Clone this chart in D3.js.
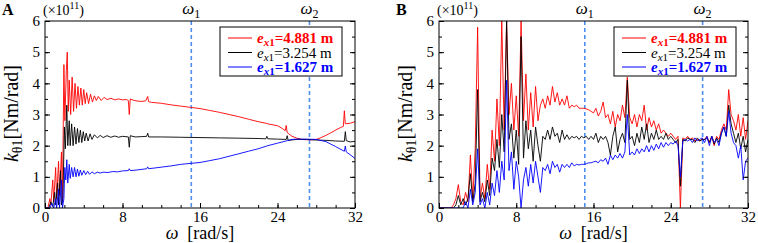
<!DOCTYPE html>
<html>
<head>
<meta charset="utf-8">
<script src="https://cdn.jsdelivr.net/npm/d3@7"></script>
<style>
  body { margin: 0; background: #fff; }
  svg text { font-family: "Liberation Serif", "Times New Roman", serif; }
</style>
</head>
<body>
<svg id="drawing_region"></svg>
<script>
// axis ticks
const xMajor = [0, 8, 16, 24, 32];
const yMajor = [0, 1, 2, 3, 4, 5, 6];
const omegaMarks = [15.1, 27.3];

const legendLabels = ["4.881", "3.254", "1.627"];
const seriesColors = ["#ff0000", "#000000", "#0000ff"];

// panel A: [omega, k] pairs
const redA = [[0,0],[0.3,0],[0.5,0.3],[0.6,0.1],[0.8,0.9],[0.9,0.2],[1.1,1.3],[1.2,0.3],[1.4,1.5],[1.5,0.4],[1.7,1.8],[1.8,0.2],
  [1.95,4.6],[2.05,2.8],[2.2,4.4],[2.3,5.0],[2.4,3.1],[2.5,4.1],[2.65,3.0],[2.8,4.2],[2.95,3.1],[3.1,4.0],[3.25,3.2],[3.4,3.9],
  [3.55,3.3],[3.7,3.85],[3.85,3.3],[4.0,3.8],[4.15,3.35],[4.3,3.7],[4.5,3.35],[4.7,3.65],[4.9,3.4],[5.1,3.6],[5.3,3.45],[5.5,3.58],
  [5.8,3.45],[6.1,3.55],[6.4,3.48],[6.8,3.52],[7.2,3.47],[7.6,3.5],[8.0,3.47],[8.4,3.48],[8.6,3.45],[8.7,3.0],[8.8,3.5],[9.2,3.45],
  [9.6,3.43],[10.0,3.42],[10.4,3.44],[10.6,3.58],[10.7,3.41],[11,3.39],[12,3.36],[13,3.31],[14,3.27],[15,3.23],[16,3.19],[17,3.13],
  [18,3.07],[19,3.0],[20,2.93],[21,2.85],[22,2.77],[22.8,2.72],[23,2.7],[24,2.64],[24.5,2.55],[24.8,2.48],[24.9,2.65],[25.0,2.42],
  [25.5,2.3],[26,2.24],[26.5,2.2],[27,2.19],[27.5,2.19],[28,2.2],[28.5,2.26],[29,2.33],[29.5,2.41],[30,2.5],[30.5,2.58],[30.8,2.62],
  [30.9,3.12],[31.0,2.7],[31.5,2.72],[32,2.77]];
const blackA = [[0,0],[0.4,0],[0.6,0.2],[0.8,0.05],[1.0,0.5],[1.1,0.1],[1.3,0.8],[1.4,0.1],[1.6,1.2],[1.7,0.1],[1.85,0.3],
  [2.0,2.6],[2.1,1.9],[2.25,3.3],[2.35,2.0],[2.5,2.8],[2.6,2.0],[2.75,2.7],[2.9,2.0],[3.05,2.6],[3.2,2.05],[3.35,2.55],[3.5,2.1],
  [3.65,2.5],[3.8,2.1],[3.95,2.45],[4.1,2.15],[4.25,2.4],[4.45,2.15],[4.65,2.38],[4.85,2.2],[5.1,2.35],[5.4,2.25],[5.7,2.33],[6,2.26],
  [6.4,2.32],[6.8,2.27],[7.2,2.31],[7.6,2.27],[8,2.3],[8.6,2.28],[8.7,1.95],[8.8,2.32],[9.3,2.28],[10,2.29],[10.5,2.3],[10.6,2.4],
  [10.7,2.28],[12,2.28],[14,2.27],[16,2.26],[18,2.25],[20,2.24],[22,2.23],[22.8,2.22],[22.9,2.3],[23,2.22],[24,2.21],[24.9,2.2],
  [25,2.32],[25.1,2.17],[26,2.2],[27,2.2],[28,2.18],[29,2.17],[30,2.15],[30.9,2.14],[31.0,2.45],[31.1,2.16],[31.5,2.12],[32,2.14]];
const blueA = [[0,0],[0.5,0],[0.7,0.15],[0.9,0.0],[1.1,0.3],[1.2,0],[1.4,0.6],[1.5,0],[1.7,0.9],[1.8,0],[1.95,0.3],
  [2.05,1.3],[2.15,0.9],[2.25,1.55],[2.35,0.8],[2.5,1.4],[2.6,0.95],[2.75,1.3],[2.9,1.0],[3.05,1.3],[3.2,1.0],[3.35,1.25],[3.5,1.02],
  [3.65,1.22],[3.8,1.05],[4,1.2],[4.2,1.07],[4.4,1.18],[4.6,1.08],[4.85,1.16],[5.1,1.1],[5.4,1.15],[5.7,1.12],[6,1.15],[6.5,1.14],
  [7,1.17],[7.5,1.16],[8,1.19],[8.6,1.2],[8.7,1.26],[8.8,1.2],[9.5,1.22],[10.5,1.26],[10.6,1.32],[10.7,1.26],[12,1.31],[13,1.35],
  [14,1.4],[15,1.43],[16,1.46],[17,1.52],[18,1.58],[19,1.66],[20,1.74],[21,1.82],[22,1.9],[23,2.0],[24,2.08],[25,2.16],[25.5,2.2],
  [26,2.21],[27,2.21],[28,2.2],[29,2.13],[30,1.97],[30.9,1.82],[31.0,1.99],[31.1,1.8],[31.5,1.71],[32,1.59]];

// panel B: k sampled every 0.25 rad/s from 0 to 32
const stepB = 0.25;
const redB = [0,0,0,0,0,0,0.1,0.3,0.75,0.2,0.1,0.5,0.2,1.7,0.3,1.9,5.8,0.3,0.8,0.3,1.4,0.6,2.5,1.5,3.5,2.0,6,2.5,6,3.0,4.0,2.5,
  3.6,2.3,6,2.8,4.3,2.5,3.7,2.6,3.9,2.8,3.3,3.5,3.2,3.6,3.3,3.9,3.4,3.7,3.3,3.5,3.3,3.6,3.2,3.3,3.25,3.3,3.2,3.2,3.2,3.18,3.15,3.1,
  3.05,3.2,2.95,3.1,3.4,2.9,3.0,2.7,3.1,2.6,3.0,2.8,3.3,2.9,4.2,2.9,2.7,3.0,2.6,3.0,2.8,3.3,2.5,2.9,2.6,2.8,2.5,2.7,2.4,2.5,2.4,2.3,
  2.4,2.3,2.2,2.3,0,2.25,2.2,2.3,2.2,2.25,2.15,2.2,2.15,2.2,2.2,2.3,2.1,2.3,2.0,2.3,2.2,2.5,2.7,2.5,3.8,3.0,2.8,2.5,3.0,2.3,2.9,2.2,2.8];
const blackB = [0,0,0,0,0,0,0,0.1,0.4,0.1,0.3,0.1,0.3,1.1,0.2,0.8,3.8,0.2,0.5,0.2,0.9,0.4,1.6,1.2,2.2,1.3,3.0,1.8,6.0,2.2,2.7,1.6,
  2.5,1.4,5.5,1.6,2.8,1.9,2.5,1.5,2.6,2.0,1.5,2.3,2.2,2.5,2.2,2.6,2.3,2.4,2.1,2.5,2.2,2.35,2.2,2.3,2.25,2.3,2.2,2.3,2.25,2.3,2.2,2.3,
  2.2,2.4,2.1,2.3,2.2,2.3,2.1,1.7,2.3,2.6,1.8,2.2,2.4,2.1,4.1,2.2,2.3,2.0,2.4,2.1,2.6,2.2,2.7,2.1,2.4,2.2,2.5,2.2,2.3,2.2,2.4,2.2,
  2.3,2.2,2.1,2.2,0.7,2.2,2.15,2.25,2.2,2.2,2.1,2.25,2.15,2.2,2.2,2.25,2.1,2.3,2.05,2.25,2.1,2.4,2.6,2.3,3.3,2.7,2.4,2.1,2.4,1.9,2.3,1.8,2.2];
const blueB = [0,0,0,0,0,0,0,0,0,0,0,0.2,0,0.6,0.1,0.5,1.9,0.1,0.3,0,0.5,0.1,0.8,0.4,1.2,0.5,1.5,0.9,4.1,1.2,1.8,0.6,
  1.5,1.0,0,0.9,1.3,0.7,1.4,0.8,1.5,1.0,0.5,1.3,1.2,1.4,1.1,1.5,1.3,1.4,1.15,1.4,1.3,1.4,1.3,1.45,1.35,1.4,1.38,1.4,1.4,1.42,1.45,1.45,
  1.48,1.5,1.45,1.55,1.5,1.6,1.4,1.7,1.55,1.7,1.6,1.75,1.6,1.8,3.0,1.7,1.8,1.7,1.9,1.75,1.9,1.8,2.0,1.8,2.0,1.85,2.05,1.9,2.1,1.95,2.1,2.0,
  2.1,2.05,2.15,2.0,1.0,2.15,2.2,2.15,2.2,2.1,2.25,2.15,2.2,2.25,2.1,2.3,2.0,2.3,2.1,2.2,2.0,2.4,2.6,2.3,3.1,2.4,2.1,2.0,1.6,2.0,0.9,1.5,1.6];

class Panel {
  constructor( config, series ) {
    this.config = config;
    this.series = series;
    this.init();
  }

  init() {
    let self = this;
    const c = self.config;
    self.chart = d3.select('#drawing_region').append('g')
      .attr('transform', `translate(${c.left}, ${c.top})`);
    self.w = c.width;
    self.h = c.height;

    self.xscale = d3.scaleLinear().domain([0, 32]).range([0, self.w]);
    self.yscale = d3.scaleLinear().domain([0, 6]).range([self.h, 0]);
  }

  render() {
    let self = this;
    const c = self.config;

    // omega marker lines
    self.chart.selectAll('.mark')
      .data(omegaMarks)
      .join('line')
      .attr('x1', d => self.xscale(d)).attr('x2', d => self.xscale(d))
      .attr('y1', 0).attr('y2', self.h)
      .attr('stroke', '#4d8ef0')
      .attr('stroke-width', 1.6)
      .attr('stroke-dasharray', '4,3');

    const clip = 'clip' + c.name;
    self.chart.append('clipPath').attr('id', clip)
      .append('rect').attr('width', self.w).attr('height', self.h + 1).attr('y', -1);

    const line = d3.line()
      .x(d => self.xscale(d[0]))
      .y(d => self.yscale(d[1]));

    self.chart.append('g').attr('clip-path', `url(#${clip})`)
      .selectAll('path')
      .data(self.series)
      .join('path')
      .attr('d', d => line(d))
      .attr('fill', 'none')
      .attr('stroke', (d, i) => seriesColors[i])
      .attr('stroke-width', 0.9)
      .attr('stroke-linejoin', 'round');

    // axes: ticks inward
    const xminor = d3.range(0, 32.1, 2);
    const yminor = d3.range(0, 6.1, 0.5);
    const fmt = d3.format('d');

    const bottom = self.chart.append('g').attr('transform', `translate(0, ${self.h})`);
    bottom.call(d3.axisBottom(self.xscale).tickValues(xminor).tickSize(-3).tickFormat(''));
    bottom.append('g').call(d3.axisBottom(self.xscale).tickValues(xMajor).tickSize(-5).tickPadding(3).tickFormat(fmt));

    const left = self.chart.append('g');
    left.call(d3.axisLeft(self.yscale).tickValues(yminor).tickSize(-3).tickFormat(''));
    left.append('g').call(d3.axisLeft(self.yscale).tickValues(yMajor).tickSize(-5).tickPadding(5).tickFormat(fmt));

    const right = self.chart.append('g').attr('transform', `translate(${self.w}, 0)`);
    right.call(d3.axisRight(self.yscale).tickValues(yminor).tickSize(-3).tickFormat(''));
    right.append('g').call(d3.axisRight(self.yscale).tickValues(yMajor).tickSize(-5).tickFormat(''));

    self.chart.selectAll('.domain').remove();
    self.chart.selectAll('.tick text')
      .attr('font-family', '"Liberation Serif", serif')
      .attr('font-size', 15)
      .attr('fill', '#000');
    self.chart.selectAll('.tick line').attr('stroke', '#000');

    self.chart.append('rect')
      .attr('width', self.w).attr('height', self.h)
      .attr('fill', 'none').attr('stroke', '#000').attr('stroke-width', 1);

    // panel letter
    self.chart.append('text')
      .attr('x', c.letterX - c.left).attr('y', -6)
      .attr('font-family', '"Liberation Sans", Arial, sans-serif')
      .attr('font-weight', 'bold').attr('font-size', 16)
      .text(c.name);

    // multiplier
    const mult = self.chart.append('text')
      .attr('x', -2).attr('y', -6).attr('font-size', 14);
    mult.append('tspan').text('(\u00d710');
    mult.append('tspan').attr('font-size', 10).attr('dy', -6).text('11');
    mult.append('tspan').attr('dy', 6).text(')');

    // omega labels
    omegaMarks.forEach((m, i) => {
      const t = self.chart.append('text')
        .attr('x', self.xscale(m)).attr('y', -7)
        .attr('text-anchor', 'middle').attr('font-size', 17);
      t.append('tspan').attr('font-style', 'italic').text('\u03c9');
      t.append('tspan').attr('font-size', 12).attr('dy', 4).text(i + 1);
    });

    // axis titles
    const xl = self.chart.append('text')
      .attr('x', self.w / 2).attr('y', self.h + 31)
      .attr('text-anchor', 'middle').attr('font-size', 18);
    xl.append('tspan').attr('font-style', 'italic').text('\u03c9');
    xl.append('tspan').text('\u2002[rad/s]');

    const yl = self.chart.append('text')
      .attr('transform', `translate(${-27}, ${self.h / 2 - 1}) rotate(-90)`)
      .attr('text-anchor', 'middle').attr('font-size', 20);
    yl.append('tspan').attr('font-style', 'italic').text('k');
    yl.append('tspan').attr('font-size', 14).attr('dy', 4).text('\u03b81');
    yl.append('tspan').attr('dy', -4).text('[Nm/rad]');

    // legend
    const lg = self.chart.append('g').attr('transform', `translate(${c.legendX}, 6)`);
    lg.append('rect')
      .attr('width', 122).attr('height', 49)
      .attr('fill', '#fff').attr('stroke', '#000').attr('stroke-width', 1);
    legendLabels.forEach((lab, i) => {
      const y = 11 + i * 14.5;
      lg.append('line')
        .attr('x1', 8).attr('x2', 32).attr('y1', y).attr('y2', y)
        .attr('stroke', seriesColors[i]).attr('stroke-width', 1);
      const t = lg.append('text')
        .attr('x', 37).attr('y', y + 5)
        .attr('font-size', 15)
        .attr('fill', seriesColors[i])
        .attr('font-weight', i === 1 ? 'normal' : 'bold');
      t.append('tspan').attr('font-style', 'italic').text('e');
      t.append('tspan').attr('font-style', 'italic').attr('font-size', 11).attr('dy', 3).text('x');
      t.append('tspan').attr('font-size', 11).text('1');
      t.append('tspan').attr('dy', -3).text('=' + lab + ' m');
    });
  }
}

d3.select('#drawing_region').attr('width', 758).attr('height', 243);

const toPairs = arr => arr.map((k, i) => [i * stepB, k]);

const panelA = new Panel(
  { name: 'A', left: 45, top: 21, width: 310, height: 187, letterX: 2, legendX: 175 },
  [redA, blackA, blueA]);
panelA.render();

const panelB = new Panel(
  { name: 'B', left: 439, top: 21, width: 309, height: 187, letterX: 396, legendX: 175 },
  [toPairs(redB), toPairs(blackB), toPairs(blueB)]);
panelB.render();
</script>
</body>
</html>
